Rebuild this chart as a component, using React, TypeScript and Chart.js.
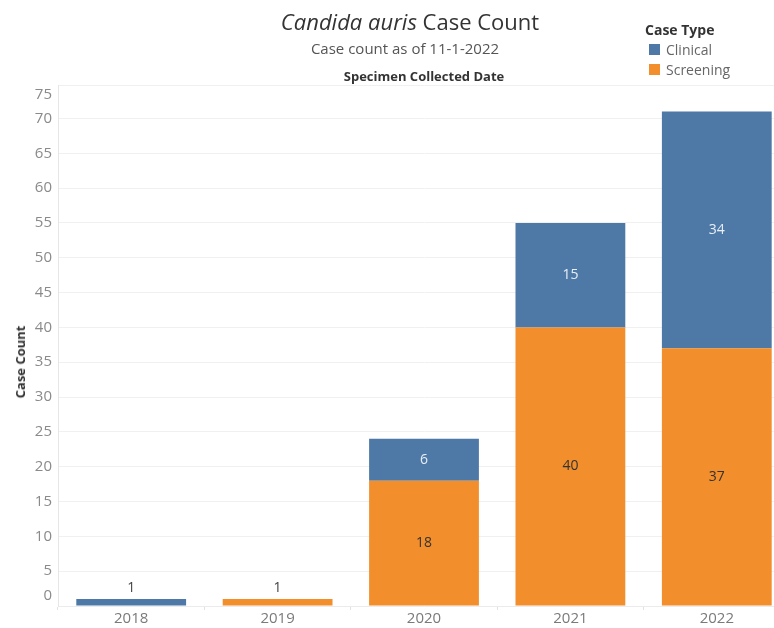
import React, { useEffect, useRef } from "react";
import { Chart, registerables } from "chart.js";

Chart.register(...registerables);

const years = ["2018", "2019", "2020", "2021", "2022"];
const clinical = [1, 0, 6, 15, 34];
const screening = [0, 1, 18, 40, 37];
const yTickLabels = [0, 5, 10, 15, 20, 25, 30, 35, 40, 45, 50, 55, 60, 65, 70, 75];

const FONT = "'Open Sans', 'DejaVu Sans', sans-serif";
const BLUE = "#4e79a7";
const ORANGE = "#f28e2b";

export default function App() {
  const ref = useRef<HTMLCanvasElement | null>(null);

  useEffect(() => {
    if (!ref.current) return;
    const labelPlugin = {
      id: "customLabels",
      afterDatasetsDraw(chart: any) {
        const ctx = chart.ctx;
        ctx.save();
        ctx.font = `14px ${FONT}`;
        ctx.textAlign = "center";
        ctx.textBaseline = "middle";
        chart.data.datasets.forEach((ds: any, di: number) => {
          const meta = chart.getDatasetMeta(di);
          meta.data.forEach((el: any, i: number) => {
            const v = ds.data[i];
            if (!v) return;
            const top = Math.min(el.y, el.base);
            const bottom = Math.max(el.y, el.base);
            if (bottom - top < 20) {
              ctx.fillStyle = "#444";
              ctx.fillText(String(v), el.x, top - 11);
            } else {
              ctx.fillStyle = di === 0 ? "#333" : "#e8eef6";
              ctx.fillText(String(v), el.x, (top + bottom) / 2);
            }
          });
        });
        ctx.restore();
      },
      afterDraw(chart: any) {
        const ctx = chart.ctx;
        const y = chart.scales.y;
        const area = chart.chartArea;
        ctx.save();
        ctx.font = `15px ${FONT}`;
        ctx.fillStyle = "#8a8a8a";
        ctx.textAlign = "right";
        ctx.textBaseline = "middle";
        yTickLabels.forEach((t) => {
          let py = y.getPixelForValue(t);
          py = Math.max(area.top + 10, Math.min(area.bottom - 10, py));
          ctx.fillText(String(t), 52, py);
        });
        ctx.restore();
      },
    };

    const chart = new Chart(ref.current, {
      type: "bar",
      data: {
        labels: years,
        datasets: [
          {
            label: "Screening",
            data: screening,
            backgroundColor: ORANGE,
            borderWidth: 0,
            categoryPercentage: 1,
            barPercentage: 0.75,
          },
          {
            label: "Clinical",
            data: clinical,
            backgroundColor: BLUE,
            borderWidth: 0,
            categoryPercentage: 1,
            barPercentage: 0.75,
          },
        ],
      },
      options: {
        animation: false,
        responsive: false,
        maintainAspectRatio: false,
        layout: { padding: { top: 85, left: 0, right: 2, bottom: 0 } },
        plugins: {
          legend: { display: false },
          tooltip: { enabled: false },
          title: { display: false },
        },
        scales: {
          x: {
            stacked: true,
            offset: true,
            grid: {
              offset: true,
              drawOnChartArea: false,
              color: "#e2e2e2",
              tickLength: 4,
            },
            border: { color: "#ebebeb" },
            ticks: {
              color: "#7a7a7a",
              font: { family: FONT, size: 15 },
              padding: 0,
            },
            afterFit: (s: any) => {
              s.height = 22;
            },
          },
          y: {
            stacked: true,
            min: 0,
            max: 74.8,
            ticks: { display: false, stepSize: 5 },
            grid: { color: "#f0f0f0", drawTicks: false },
            border: { color: "#e6e6e6" },
            afterFit: (s: any) => {
              s.width = 58;
            },
          },
        },
      },
      plugins: [labelPlugin],
    });
    return () => chart.destroy();
  }, []);

  const text: React.CSSProperties = { position: "absolute", whiteSpace: "nowrap", fontFamily: FONT };

  return (
    <div
      style={{
        position: "fixed",
        left: 0,
        top: 0,
        width: 774,
        height: 628,
        overflow: "hidden",
        background: "#fff",
      }}
    >
      <canvas ref={ref} width={792} height={628} style={{ position: "absolute", left: 0, top: 0, width: 792, height: 628 }} />
      <div style={{ ...text, left: 0, width: 820, top: 6, textAlign: "center", fontSize: 22, color: "#333", lineHeight: "30px" }}>
        <i>Candida auris</i> Case Count
      </div>
      <div style={{ ...text, left: 0, width: 810, top: 38, textAlign: "center", fontSize: 15, color: "#555", lineHeight: "20px" }}>
        Case count as of 11-1-2022
      </div>
      <div style={{ ...text, left: 58, width: 732, top: 67, textAlign: "center", fontSize: 13, fontWeight: 700, color: "#333", lineHeight: "18px" }}>
        Specimen Collected Date
      </div>
      <div style={{ ...text, left: 645, top: 20, fontSize: 14, fontWeight: 700, color: "#333", lineHeight: "20px" }}>
        Case Type
      </div>
      <div style={{ position: "absolute", left: 649, top: 44, width: 11, height: 11, background: BLUE }} />
      <div style={{ ...text, left: 666, top: 40, fontSize: 14, color: "#666", lineHeight: "20px" }}>Clinical</div>
      <div style={{ position: "absolute", left: 649, top: 64, width: 11, height: 11, background: ORANGE }} />
      <div style={{ ...text, left: 666, top: 60, fontSize: 14, color: "#666", lineHeight: "20px" }}>Screening</div>
      <div
        style={{
          ...text,
          left: 20,
          top: 362,
          fontSize: 13,
          fontWeight: 700,
          color: "#333",
          transform: "translate(-50%, -50%) rotate(-90deg)",
        }}
      >
        Case Count
      </div>
    </div>
  );
}
